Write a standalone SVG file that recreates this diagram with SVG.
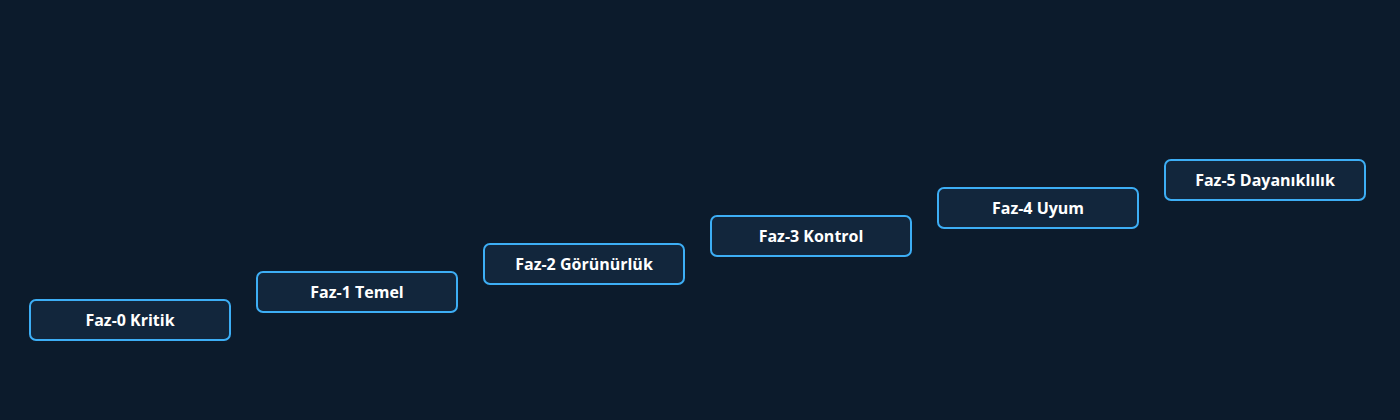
<svg xmlns="http://www.w3.org/2000/svg" width="1400" height="420" viewBox="0 0 1400 420">
<style>
.bg{fill:#0c1b2c}
.node rect{fill:#12263c;stroke:#3daef5;stroke-width:2}
.node text{fill:#ffffff;font-family:"Open Sans","Noto Sans",sans-serif;font-size:16px;font-weight:700;text-anchor:middle;dominant-baseline:central}
</style>
<rect class="bg" x="0" y="0" width="1400" height="420"/>
<g id="connectors"></g>
<g id="faz0" class="node"><rect x="30" y="300" width="200" height="40" rx="6"/><text x="130" y="320">Faz-0 Kritik</text></g>
<g id="faz1" class="node"><rect x="257" y="272" width="200" height="40" rx="6"/><text x="357" y="292">Faz-1 Temel</text></g>
<g id="faz2" class="node"><rect x="484" y="244" width="200" height="40" rx="6"/><text x="584" y="264">Faz-2 Görünürlük</text></g>
<g id="faz3" class="node"><rect x="711" y="216" width="200" height="40" rx="6"/><text x="811" y="236">Faz-3 Kontrol</text></g>
<g id="faz4" class="node"><rect x="938" y="188" width="200" height="40" rx="6"/><text x="1038" y="208">Faz-4 Uyum</text></g>
<g id="faz5" class="node"><rect x="1165" y="160" width="200" height="40" rx="6"/><text x="1265" y="180">Faz-5 Dayanıklılık</text></g>
</svg>
